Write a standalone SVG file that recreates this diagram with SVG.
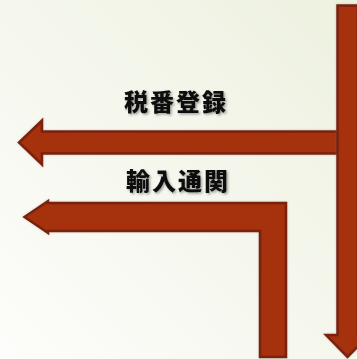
<svg xmlns="http://www.w3.org/2000/svg" width="357" height="359" viewBox="0 0 357 359">
  <defs>
    <linearGradient id="bg" x1="0" y1="1" x2="1" y2="0">
      <stop offset="0" stop-color="#fdfdfb"/>
      <stop offset="1" stop-color="#edf1df"/>
    </linearGradient>
    <filter id="ts" x="-10%" y="-20%" width="130%" height="150%">
      <feDropShadow dx="1.5" dy="1.5" stdDeviation="0.8" flood-color="#000" flood-opacity="0.35"/>
    </filter>
    <filter id="as" x="-10%" y="-10%" width="130%" height="130%">
      <feDropShadow dx="0" dy="0" stdDeviation="0.8" flood-color="#8a7a60" flood-opacity="0.4"/>
    </filter>
  </defs>
  <style>
    .arrow { fill: #a5300f; stroke: #7a200e; stroke-width: 2.5; stroke-linejoin: miter; filter: url(#as); }
    .label { font-family: "Noto Sans CJK JP", "Noto Sans CJK SC", sans-serif; font-weight: 900; font-size: 24px; letter-spacing: 2px; fill: #111; text-anchor: middle; filter: url(#ts); }
  </style>
  <rect x="0" y="0" width="357" height="359" fill="url(#bg)"/>
  <g id="connectors">
    <g id="arrow-zeiban">
      <polygon class="arrow" points="338,131.5 42,131.5 42,120.5 19,142.5 42,164.5 42,153.5 338,153.5"/>
    </g>
    <g id="arrow-yunyu">
      <polygon class="arrow" points="286,203 48,203 48,201 24.5,217 48,233 48,231 260,231 260,357 286,357"/>
    </g>
    <g id="arrow-main">
      <polygon class="arrow" points="337.5,5.5 358,5.5 358,335 369,335 347.5,357 326,335 337.5,335"/>
    </g>
  </g>
  <g id="label-zeiban">
    <text class="label" x="176" y="111">税番登録</text>
  </g>
  <g id="label-yunyu">
    <text class="label" x="178" y="190">輸入通関</text>
  </g>
</svg>
